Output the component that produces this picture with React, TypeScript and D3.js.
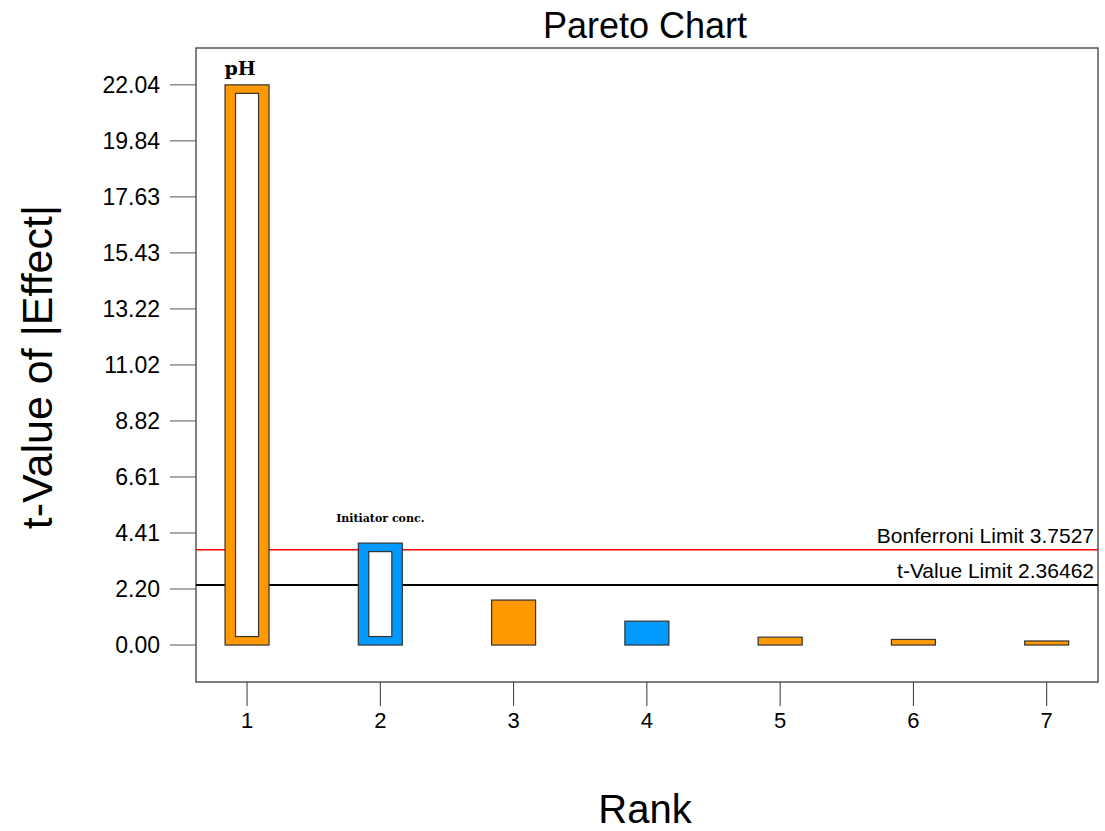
import React from "react";
import * as d3 from "d3";

const ranks = [1, 2, 3, 4, 5, 6, 7];
const tValues = [22.04, 4.01, 1.77, 0.94, 0.31, 0.22, 0.16];
const barColors = ["#FF9900", "#0099FF", "#FF9900", "#0099FF", "#FF9900", "#FF9900", "#FF9900"];
const hollow = [true, true, false, false, false, false, false];
const barLabels = ["pH", "Initiator conc.", "", "", "", "", ""];
const yTicks = [0, 2.204, 4.408, 6.612, 8.816, 11.02, 13.224, 15.428, 17.632, 19.836, 22.04];
const yTickLabels = ["0.00", "2.20", "4.41", "6.61", "8.82", "11.02", "13.22", "15.43", "17.63", "19.84", "22.04"];
const bonferroni = 3.7527;
const tLimit = 2.36462;

export default function App() {
  const W = 1105, H = 831;
  const left = 196, right = 1098, top = 48, bottom = 682;
  const y = d3.scaleLinear().domain([-1.454, 23.49]).range([bottom, top]);
  const x = d3.scaleLinear().domain([0.617, 7.385]).range([left, right]);
  const bw = 44;
  const font = "Arial, 'Liberation Sans', sans-serif";
  return (
    <svg width={W} height={H} style={{ position: "absolute", left: 0, top: 0 }}>
      <rect x={0} y={0} width={W} height={H} fill="#fff" />
      <text x={645} y={38} textAnchor="middle" fontFamily={font} fontSize={36} fill="#000">Pareto Chart</text>
      {/* frame */}
      <rect x={left} y={top} width={right - left} height={bottom - top} fill="none" stroke="#555" strokeWidth={1.5} />
      {/* limit lines */}
      <line x1={left} x2={right} y1={y(bonferroni)} y2={y(bonferroni)} stroke="#FF0000" strokeWidth={1.5} />
      <line x1={left} x2={right} y1={y(tLimit)} y2={y(tLimit)} stroke="#000" strokeWidth={2} />
      <text x={1094} y={y(bonferroni) - 7} textAnchor="end" fontFamily={font} fontSize={21} fill="#000">Bonferroni Limit 3.7527</text>
      <text x={1094} y={y(tLimit) - 7} textAnchor="end" fontFamily={font} fontSize={21} fill="#000">t-Value Limit 2.36462</text>
      {/* y ticks */}
      {yTicks.map((v, i) => (
        <g key={i}>
          <line x1={170} x2={left} y1={y(v)} y2={y(v)} stroke="#555" strokeWidth={1} />
          <text x={160} y={y(v) + 8} textAnchor="end" fontFamily={font} fontSize={23} fill="#000">{yTickLabels[i]}</text>
        </g>
      ))}
      {/* x ticks */}
      {ranks.map((r) => (
        <g key={r}>
          <line x1={x(r)} x2={x(r)} y1={bottom} y2={706} stroke="#333" strokeWidth={1} />
          <text x={x(r)} y={728} textAnchor="middle" fontFamily={font} fontSize={22} fill="#000">{r}</text>
        </g>
      ))}
      {/* bars */}
      {ranks.map((r, i) => {
        const x0 = x(r) - bw / 2;
        const yt = y(tValues[i]);
        const y0 = y(0);
        return (
          <g key={r}>
            <rect x={x0} y={yt} width={bw} height={y0 - yt} fill={barColors[i]} stroke="#333" strokeWidth={1.2} />
            {hollow[i] && (
              <rect x={x0 + 10.5} y={yt + 8.5} width={bw - 21} height={y0 - yt - 17} fill="#fff" stroke="#333" strokeWidth={1.2} />
            )}
            {barLabels[i] && (
              <text x={x(r) - (i === 0 ? 7 : 0)} y={yt - (i === 0 ? 10 : 21)} textAnchor="middle" fontFamily="'DejaVu Serif', serif" fontWeight="bold" fontSize={i === 0 ? 19 : 11} fill="#000">{barLabels[i]}</text>
            )}
          </g>
        );
      })}
      {/* axis titles */}
      <text transform={`translate(52,367) rotate(-90)`} textAnchor="middle" fontFamily={font} fontSize={43} fill="#000">t-Value of |Effect|</text>
      <text x={645} y={823} textAnchor="middle" fontFamily={font} fontSize={40} fill="#000">Rank</text>
    </svg>
  );
}
